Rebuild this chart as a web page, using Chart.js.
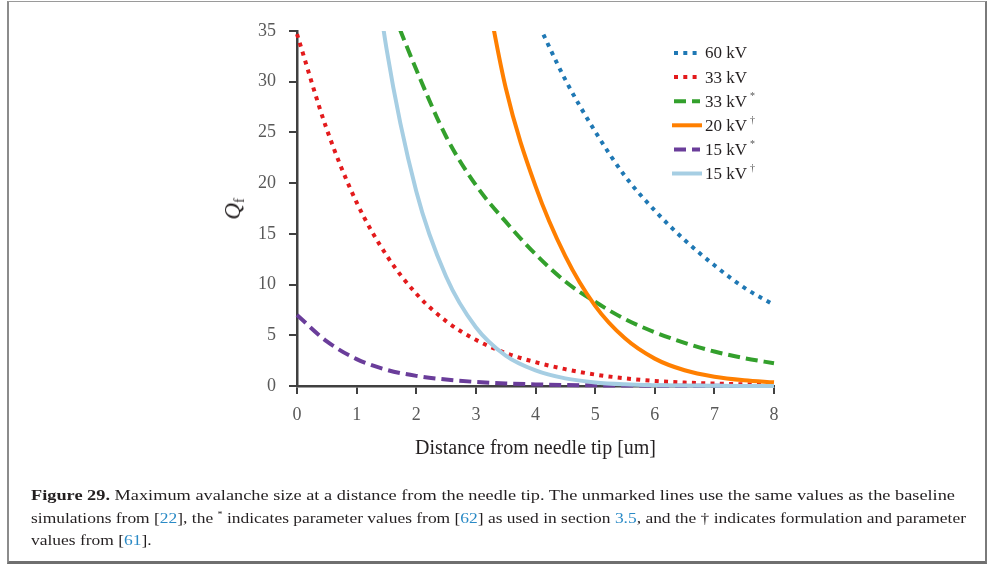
<!DOCTYPE html>
<html>
<head>
<meta charset="utf-8">
<script src="https://cdn.jsdelivr.net/npm/chart.js@4/dist/chart.umd.min.js"></script>
<style>
  html, body { margin: 0; padding: 0; background: #fff; }
  #wrap { position: relative; width: 988px; height: 566px; overflow: hidden; background: #fff; }
  #frame { position: absolute; left: 7px; top: 1px; width: 976px; height: 559px;
           border-left: 2px solid #8c8c8c; border-top: 1px solid #9a9a9a;
           border-right: 2px solid #7a7a7a; border-bottom: 3px solid #6f6f6f; }
  #chart { position: absolute; left: 0; top: 0; }
  #ytitle { position: absolute; left: 234px; top: 209px; transform: translate(-50%, -50%) rotate(-90deg);
            font-family: "Liberation Serif", "DejaVu Serif", serif; font-size: 23px; color: #231f20;
            white-space: nowrap; line-height: 1; }
  #ytitle i { font-style: italic; }
  #ytitle sub { font-size: 14px; vertical-align: -4px; }
  .cap { position: absolute; left: 31px; font-family: "Liberation Serif", "DejaVu Serif", serif;
         font-size: 15.5px; line-height: 22px; color: #231f20; white-space: nowrap; transform-origin: 0 50%; }
  .cap .ref { color: #2a8ac6; }
  .cap sup { font-size: 9px; vertical-align: 6px; line-height: 0; }
</style>
</head>
<body>
<div id="wrap">
  <div id="frame"></div>
  <canvas id="chart" width="988" height="566"></canvas>
  <div id="ytitle"><i>Q</i><sub>f</sub></div>
  <div class="cap" id="cap1" style="top:484px"><b>Figure 29.</b> Maximum avalanche size at a distance from the needle tip. The unmarked lines use the same values as the baseline</div>
  <div class="cap" id="cap2" style="top:506.5px">simulations from [<span class="ref">22</span>], the <sup>*</sup> indicates parameter values from [<span class="ref">62</span>] as used in section <span class="ref">3.5</span>, and the † indicates formulation and parameter</div>
  <div class="cap" id="cap3" style="top:529px">values from [<span class="ref">61</span>].</div>
</div>
<script>
// Distance from the needle tip (um), sampled every 0.5
const distance = [0, 0.5, 1, 1.5, 2, 2.5, 3, 3.5, 4, 4.5, 5, 5.5, 6, 6.5, 7, 7.5, 8];

// Maximum avalanche size Q_f for each case (null where the curve is far off scale)
const q60kV      = [null, null, null, null, null, null, null, null, 36.3, 30.2, 25.1, 20.7, 17.3, 14.4, 11.9, 9.7, 8.0];
const q33kV      = [34.7, 25.3, 18.1, 12.9, 9.1, 6.4, 4.55, 3.25, 2.35, 1.66, 1.13, 0.76, 0.5, 0.34, 0.24, 0.17, 0.12];
const q33kVStar  = [null, null, null, 38.5, 31.2, 24.6, 19.8, 16.2, 13.0, 10.3, 8.3, 6.6, 5.3, 4.25, 3.4, 2.75, 2.24];
const q20kVDag   = [null, null, null, null, null, null, 44.7, 29.4, 19.7, 12.8, 7.9, 4.7, 2.7, 1.55, 0.92, 0.57, 0.36];
const q15kVStar  = [7.0, 4.4, 2.65, 1.6, 1.0, 0.64, 0.4, 0.25, 0.16, 0.1, 0.065, 0.045, 0.03, 0.02, 0.015, 0.01, 0.01];
const q15kVDag   = [null, null, 55, 33.3, 19.2, 10.8, 5.8, 3.0, 1.54, 0.75, 0.35, 0.165, 0.08, 0.04, 0.02, 0.01, 0.005];

const seriesNames = ['60 kV', '33 kV', '33 kV', '20 kV', '15 kV', '15 kV'];
const seriesMarks = ['', '', '*', '\u2020', '*', '\u2020'];
const yTicks = [0, 5, 10, 15, 20, 25, 30, 35];
const xTicks = [0, 1, 2, 3, 4, 5, 6, 7, 8];

const serif = '"Liberation Serif", "DejaVu Serif", serif';
const DOT = [4, 5.3];
const DASH = [12, 6];

function pts(vals) { return distance.map((x, i) => ({ x: x, y: vals[i] })); }

const styles = [
  { color: '#1f78b4', dash: DOT },
  { color: '#e31a1c', dash: DOT },
  { color: '#33a02c', dash: DASH },
  { color: '#ff7f00', dash: [] },
  { color: '#6a3d9a', dash: DASH },
  { color: '#a6cee3', dash: [] }
];
const seriesValues = [q60kV, q33kV, q33kVStar, q20kVDag, q15kVStar, q15kVDag];

const datasets = seriesValues.map((vals, i) => ({
  label: seriesNames[i],
  data: pts(vals),
  borderColor: styles[i].color,
  backgroundColor: styles[i].color,
  borderDash: styles[i].dash,
  borderWidth: 4,
  borderCapStyle: 'butt',
  pointRadius: 0,
  fill: false,
  cubicInterpolationMode: 'monotone',
  spanGaps: false,
  clip: { left: 2, top: 0, right: 2, bottom: 2 },
  order: seriesValues.length - i
}));

// Legend block at the upper right of the plot, with superscript marks
const sideLegend = {
  id: 'sideLegend',
  afterDraw(chart) {
    const ctx = chart.ctx;
    datasets.forEach((ds, i) => {
      const y = 53 + i * 24.1;
      const solid = ds.borderDash.length === 0;
      ctx.save();
      ctx.strokeStyle = ds.borderColor;
      ctx.lineWidth = 4;
      ctx.lineCap = 'butt';
      ctx.setLineDash(ds.borderDash);
      ctx.beginPath();
      ctx.moveTo(solid ? 672 : 674, y);
      ctx.lineTo(solid ? 702 : 700, y);
      ctx.stroke();
      ctx.setLineDash([]);
      ctx.fillStyle = '#231f20';
      ctx.font = '17px ' + serif;
      ctx.textBaseline = 'middle';
      ctx.fillText(seriesNames[i], 705, y + 1);
      if (seriesMarks[i]) {
        const w = ctx.measureText(seriesNames[i]).width;
        ctx.font = '10px ' + serif;
        ctx.fillStyle = '#555';
        ctx.fillText(seriesMarks[i], 705 + w + 3, y - 5);
      }
      ctx.restore();
    });
  }
};

new Chart(document.getElementById('chart'), {
  type: 'line',
  data: { datasets: datasets },
  plugins: [sideLegend],
  options: {
    responsive: false,
    animation: false,
    devicePixelRatio: 1,
    layout: { padding: { left: 0, top: 31, right: 214, bottom: 100 } },
    plugins: { legend: { display: false }, tooltip: { enabled: false } },
    scales: {
      x: {
        type: 'linear', min: 0, max: 8,
        afterBuildTicks(s) { s.ticks = xTicks.map(v => ({ value: v })); },
        afterFit(s) { s.height = 80; },
        ticks: { padding: 10, color: '#595959', font: { family: serif, size: 18 }, maxRotation: 0 },
        grid: { drawOnChartArea: false, drawTicks: true, tickLength: 8, color: '#404040', lineWidth: 2 },
        border: { color: '#404040', width: 2.5 },
        title: { display: true, text: 'Distance from needle tip [um]', color: '#231f20',
                 font: { family: serif, size: 20 }, padding: { top: 0, bottom: 5 } }
      },
      y: {
        type: 'linear', min: 0, max: 35,
        afterBuildTicks(s) { s.ticks = yTicks.map(v => ({ value: v })); },
        afterFit(s) { s.width = 297; },
        ticks: { padding: 13, color: '#595959', font: { family: serif, size: 18 } },
        grid: { drawOnChartArea: false, drawTicks: true, tickLength: 8, color: '#404040', lineWidth: 2 },
        border: { color: '#404040', width: 2.5 }
      }
    }
  }
});

// Fit the caption lines to the text block width
function fitLine(id, target) {
  const el = document.getElementById(id);
  const w = el.getBoundingClientRect().width;
  const k = target / w;
  el.style.transform = 'scaleX(' + k + ')';
  return k;
}
const k1 = fitLine('cap1', 924);
const k2 = fitLine('cap2', 935);
document.getElementById('cap3').style.transform = 'scaleX(' + k2 + ')';
</script>
</body>
</html>
